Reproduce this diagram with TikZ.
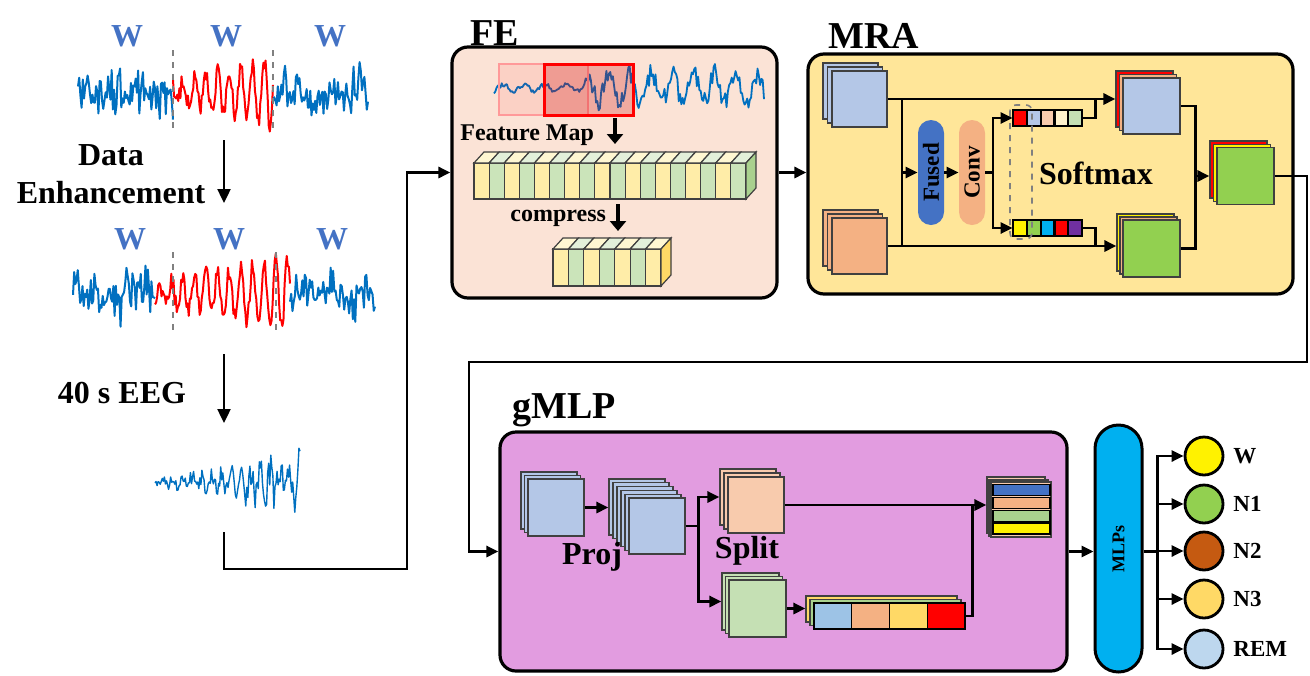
\documentclass[tikz,border=0pt]{standalone}
\usepackage{fontspec}
\setmainfont{Liberation Serif}
\usetikzlibrary{arrows.meta,calc}
\definecolor{wblue}{HTML}{4472C4}
\definecolor{eeg}{HTML}{0070C0}
\definecolor{fec}{HTML}{FBE3D6}
\definecolor{mrac}{HTML}{FFE699}
\definecolor{gmc}{HTML}{E29CE0}
\definecolor{sqblue}{HTML}{B4C7E7}
\definecolor{sqorange}{HTML}{F4B183}
\definecolor{sqpeach}{HTML}{F8CBAD}
\definecolor{sqlgreen}{HTML}{C5E0B4}
\definecolor{sqgreen}{HTML}{92D050}
\definecolor{fmy}{HTML}{FFEDA8}
\definecolor{fmyt}{HTML}{FFF7D2}
\definecolor{fmg}{HTML}{CBE4BA}
\definecolor{fmgt}{HTML}{E3F0DA}
\definecolor{fmside}{HTML}{A9D18E}
\definecolor{gold}{HTML}{FFD966}
\definecolor{cyanc}{HTML}{00B0F0}
\definecolor{purp}{HTML}{7030A0}
\definecolor{brownc}{HTML}{C55A11}
\definecolor{lblue}{HTML}{BDD7EE}
\definecolor{barblue}{HTML}{9DC3E6}
\definecolor{stripgreen}{HTML}{A9D18E}
\definecolor{vlight}{HTML}{FFF2CC}
\newcommand{\myfs}[1]{\fontsize{#1}{#1}\selectfont}
\tikzset{
 conn/.style={line width=1.4pt,-{Triangle[length=6pt,width=5.5pt]}},
 wire/.style={line width=1.4pt},
 thinarrow/.style={line width=1.2pt,-{Triangle[length=7pt,width=6.5pt]}},
 fatarrow/.style={line width=2.4pt,-{Triangle[length=5pt,width=8pt]}},
 sqn/.style={draw=black!75, line width=0.6pt, inner sep=0pt},
 lyr/.style={draw=black!75, line width=0.6pt},
 bigbox/.style={draw, line width=1.6pt, rounded corners=8pt, inner sep=0pt},
 ttl/.style={font=\bfseries\myfs{19}, anchor=base west, inner sep=0pt},
 lab16/.style={font=\bfseries\myfs{16}, inner sep=0pt},
 lab12/.style={font=\bfseries\myfs{12}, inner sep=0pt},
 wlab/.style={font=\bfseries\myfs{16}, text=wblue, inner sep=0pt},
 pillshape/.style={rounded corners=6.5pt, minimum width=13pt, minimum height=52.5pt, inner sep=0pt},
 cls/.style={circle, draw, line width=1.4pt, minimum size=19pt, inner sep=0pt},
 clab/.style={font=\bfseries\myfs{11.5}, anchor=west, inner sep=0pt},
 sig/.style={eeg, line width=1pt, line join=round},
 sigred/.style={red, line width=1pt, line join=round},
 sepline/.style={gray, dashed, line width=0.8pt},
}
\newcommand{\lyrect}[5]{\draw[lyr, fill=#5] (#1,#2) rectangle ++(#3,#4);}
\begin{document}
\begin{tikzpicture}[x=0.5pt,y=-0.5pt]
\useasboundingbox (0,0) rectangle (1310,675);
\pgfmathsetseed{2024}

% ---------------- left column ----------------
\node[wlab] (w1) at (127,36) {W};
\node[wlab] (w2) at (226,36) {W};
\node[wlab] (w3) at (330,36) {W};
\draw[sig] plot[domain=78:173,samples=80] (\x,{92+10*rand+32*rand*rand});
\draw[sigred] plot[domain=173:273,samples=95] (\x,{92+9*rand+(8+0.26*(\x-173))*sin(\x*31)});
\draw[sig] plot[domain=273:368,samples=80] (\x,{92+10*rand+30*rand*rand});
\draw[sepline] (173,50) -- (173,131);
\draw[sepline] (273,50) -- (273,131);

\coordinate (d1a) at (224,140);
\coordinate (d1b) at (224,203);
\draw[thinarrow] (d1a) -- (d1b);
\node[lab16] (det1) at (111,155) {Data};
\node[lab16] (det2) at (111,193) {Enhancement};

\node[wlab] (w4) at (130,239) {W};
\node[wlab] (w5) at (229,239) {W};
\node[wlab] (w6) at (332,239) {W};
\draw[sig] plot[domain=73:155,samples=70] (\x,{293+10*rand+32*rand*rand});
\draw[sigred] plot[domain=155:290,samples=125] (\x,{293+9*rand+(8+0.2*(\x-155))*sin(\x*31)});
\draw[sig] plot[domain=290:375,samples=70] (\x,{293+10*rand+28*rand*rand});
\draw[sepline] (173,252) -- (173,333);
\draw[sepline] (276,252) -- (276,333);

\coordinate (d2a) at (224,354);
\coordinate (d2b) at (224,423);
\draw[thinarrow] (d2a) -- (d2b);
\node[lab16] (eegt) at (122,393) {40 s EEG};

\draw[eeg, line width=0.7pt, line join=round] plot[domain=155:300,samples=140] (\x,{482+(5+0.22*(\x-155))*(0.55*rand+0.45*sin(\x*37))});

% ---------------- big boxes ----------------
\node[bigbox, fill=fec, minimum width=162.5pt, minimum height=125.5pt] (fe) at (614.5,172.5) {};
\node[bigbox, fill=mrac, minimum width=242.5pt, minimum height=120pt] (mra) at (1050.5,174) {};
\node[bigbox, fill=gmc, minimum width=283.5pt, minimum height=119.5pt] (gm) at (783.5,551.5) {};
\node[ttl] (fet) at (470,45) {FE};
\node[ttl] (mrat) at (828,48) {MRA};
\node[ttl] (gmt) at (512,418) {gMLP};

\coordinate (s3o) at (224,532);
\draw[conn] (s3o) -- (224,569) -| (407,172.5) -- (fe.west);

% ---------------- FE ----------------
\draw[eeg, line width=0.9pt, line join=round] plot[domain=494:764,samples=210] (\x,{88+(6+18*(\x>585))*(0.4*rand+0.6*sin(\x*17))});
\draw[red!40, line width=1pt, fill=red, fill opacity=0.08] (499,64) rectangle (588,115);
\draw[red, line width=1.5pt, fill=red!80!black, fill opacity=0.25] (544,64) rectangle (633,115);
\node[lab12, anchor=west] (fmt) at (460,135) {Feature Map};
\coordinate (fa1) at (615,118);
\coordinate (fa2) at (615,144);
\draw[fatarrow] (fa1) -- (fa2);
\foreach \i in {0,...,17} {
  \pgfmathsetmacro\xa{474+\i*15.11}
  \pgfmathtruncatemacro\odd{mod(\i,2)}
  \ifnum\odd=0 \def\cf{fmy}\def\ct{fmyt}\else \def\cf{fmg}\def\ct{fmgt}\fi
  \draw[lyr, fill=\cf] (\xa,163) rectangle ++(15.11,36);
  \draw[lyr, fill=\ct] (\xa,163) -- ++(10,-11) -- ++(15.11,0) -- ++(-10,11) -- cycle;
}
\draw[lyr, fill=fmside] (746,163) -- ++(10,-11) -- ++(0,36) -- ++(-10,11) -- cycle;
\node[lab12, anchor=west] (cmp) at (510,218) {compress};
\coordinate (fa3) at (618,204);
\coordinate (fa4) at (618,231);
\draw[fatarrow] (fa3) -- (fa4);
\foreach \i in {0,...,6} {
  \pgfmathsetmacro\xa{553+\i*15.43}
  \pgfmathtruncatemacro\odd{mod(\i,2)}
  \ifnum\odd=0 \def\cf{fmy}\def\ct{fmyt}\else \def\cf{fmg}\def\ct{fmgt}\fi
  \draw[lyr, fill=\cf] (\xa,249) rectangle ++(15.43,37);
  \draw[lyr, fill=\ct] (\xa,249) -- ++(10,-11) -- ++(15.43,0) -- ++(-10,11) -- cycle;
}
\draw[lyr, fill=gold] (661,249) -- ++(10,-11) -- ++(0,37) -- ++(-10,11) -- cycle;

\draw[conn] (fe.east) -- (fe.east -| mra.west);

% ---------------- MRA ----------------
\lyrect{823}{63}{55}{56}{sqblue}
\lyrect{827.5}{67}{55}{56}{sqblue}
\node[sqn, fill=sqblue, minimum width=27.5pt, minimum height=28pt] (mb) at (859.5,99) {};
\lyrect{823}{210}{55}{56}{sqorange}
\lyrect{827.5}{214}{55}{56}{sqorange}
\node[sqn, fill=sqorange, minimum width=27.5pt, minimum height=28pt] (mo) at (859.5,246) {};

\node[sqn, fill=red, minimum width=28.5pt, minimum height=28pt] (mtrb) at (1144.5,99) {};
\lyrect{1119.5}{74.5}{57}{56}{sqorange}
\node[sqn, fill=sqblue, minimum width=28.5pt, minimum height=28pt] (mtr) at (1151.5,106) {};
\node[sqn, fill=yellow, minimum width=28.5pt, minimum height=28.5pt] (mgrb) at (1145.5,242.5) {};
\lyrect{1120}{217}{57}{57}{sqorange}
\node[sqn, fill=sqgreen, minimum width=28.5pt, minimum height=28.5pt] (mgr) at (1151.5,248.5) {};
\node[sqn, fill=red, minimum width=28.5pt, minimum height=28.5pt] (mfb) at (1238.5,169.5) {};
\lyrect{1213.5}{144.5}{57}{57}{yellow}
\node[sqn, fill=sqgreen, minimum width=28.5pt, minimum height=28.5pt] (mfin) at (1245.5,176) {};

\draw[conn] (mb.east) -- (mb.east -| mtrb.west);
\draw[conn] (mo.east) -- (mo.east -| mgrb.west);
\coordinate (mj1) at (902,99);
\coordinate (mj2) at (902,246);
\draw[wire] (mj1) -- (mj2);

\node[pillshape, fill=wblue] (fused) at (931,172.5) {};
\node[rotate=90, font=\bfseries\myfs{11.5}, inner sep=0pt] (fusedt) at (fused.center) {Fused};
\node[pillshape, fill=sqorange] (conv) at (972,172.5) {};
\node[rotate=90, font=\bfseries\myfs{11.5}, inner sep=0pt] (convt) at (conv.center) {Conv};
\coordinate (mj3) at (902,172.5);
\draw[conn] (mj3) -- (fused.west);
\draw[conn] (fused.east) -- (conv.west);

\node[inner sep=0pt, minimum width=34.5pt, minimum height=8pt] (vt) at (1047.5,118) {};
\node[inner sep=0pt, minimum width=34.5pt, minimum height=8pt] (vb) at (1047.5,228) {};
\foreach \c [count=\k from 0] in {red,sqblue,sqpeach,vlight,sqlgreen}
  \draw[line width=1.1pt, fill=\c] (1013+\k*13.8,110) rectangle ++(13.8,16);
\foreach \c [count=\k from 0] in {yellow,sqgreen,cyanc,red,purp}
  \draw[line width=1.1pt, fill=\c] (1013+\k*13.8,220) rectangle ++(13.8,16);
\draw[gray, dashed, line width=0.8pt, rounded corners=3pt] (1010,105) rectangle (1032,239);

\coordinate (cb) at (993,172.5);
\draw[wire] (conv.east) -- (cb);
\draw[conn] (cb) |- (vt.west);
\draw[conn] (cb) |- (vb.west);
\draw[wire] (vt.east) -- ++(13,0) coordinate (vtj) -- (vtj |- mb.east);
\draw[wire] (vb.east) -- ++(13,0) coordinate (vbj) -- (vbj |- mo.east);
\node[lab16] (smx) at (1096,173) {Softmax};

\draw[wire] (mtr.east) -- ++(15,0) coordinate (rjt) -- (rjt |- mgr.east) -- (mgr.east);
\coordinate (rjm) at (1195,176);
\draw[conn] (rjm) -- (rjm -| mfb.west);

\draw[conn] (mfin.east) -- (1307,176) -- (1307,362) -- (469,362) |- (gm.west);

% ---------------- gMLP ----------------
\lyrect{521}{472}{56}{57}{sqblue}
\lyrect{524.5}{475.5}{56}{57}{sqblue}
\node[sqn, fill=sqblue, minimum width=28pt, minimum height=28.5pt] (g1) at (556,507.5) {};
\node[sqn, fill=sqblue, minimum width=28pt, minimum height=28pt] (g2b) at (637,507) {};
\foreach \i in {1,...,4} { \lyrect{609+4*\i}{479+3.8*\i}{56}{56}{sqblue} }
\node[sqn, fill=sqblue, minimum width=28pt, minimum height=28pt] (g2) at (657,526) {};
\draw[conn] (g1.east) -- (g1.east -| g2b.west);
\node[lab16] (projt) at (592,557) {Proj};

\node[sqn, fill=sqpeach, minimum width=28pt, minimum height=28pt] (gob) at (748,497) {};
\lyrect{724}{473}{56}{56}{sqpeach}
\node[sqn, fill=sqpeach, minimum width=28pt, minimum height=28pt] (go) at (756,505) {};
\node[sqn, fill=sqlgreen, minimum width=28.5pt, minimum height=28.5pt] (ggb) at (750.5,601.5) {};
\lyrect{725.5}{576.5}{57}{57}{sqlgreen}
\node[sqn, fill=sqlgreen, minimum width=28.5pt, minimum height=28.5pt] (gg) at (757.5,608.5) {};
\node[lab16] (splitt) at (747,551) {Split};

\draw[wire] (g2.east) -- ++(13,0) coordinate (gj);
\draw[conn] (gj) |- (gob.west);
\draw[conn] (gj) |- (ggb.west);

\node[sqn, fill=gold, minimum width=75.5pt, minimum height=13pt] (barb) at (881.5,609) {};
\lyrect{810}{599.5}{151}{26}{stripgreen}
\node[inner sep=0pt, minimum width=75.5pt, minimum height=13pt] (barf) at (889.5,616) {};
\foreach \c [count=\k from 0] in {barblue,sqorange,gold,red}
  \draw[line width=0.7pt, fill=\c] (814+\k*37.75,603) rectangle ++(37.75,26);
\draw[conn] (gg.east) -- (gg.east -| barb.west);

\node[sqn, fill=sqpeach, minimum width=29pt, minimum height=28pt] (gtb) at (1016,505) {};
\lyrect{989}{480}{59}{56}{sqpeach}
\node[sqn, fill=sqpeach, minimum width=30pt, minimum height=27.5pt] (gt) at (1021,509.5) {};
\foreach \c/\ya/\yb in {wblue/484.5/495.5, sqorange/497.5/508.5, stripgreen/510.5/521.5, yellow/523/534}
  \draw[line width=0.7pt, fill=\c] (993,\ya) rectangle (1050,\yb);

\draw[conn] (go.east) -- (go.east -| gtb.west);
\draw[wire] (barf.east) -- ++(7,0) coordinate (bj) -- (bj |- go.east);

% ---------------- MLPs & classes ----------------
\node[draw, line width=1.5pt, fill=cyanc, rounded corners=11.75pt, minimum width=23.5pt, minimum height=123.5pt, inner sep=0pt] (mlp) at (1118.5,548.5) {};
\node[rotate=90, font=\bfseries\myfs{9}, inner sep=0pt] (mlpt) at (mlp.center) {MLPs};
\draw[conn] (gm.east) -- (gm.east -| mlp.west);

\node[cls, fill=yellow] (c1) at (1204,456) {};
\node[cls, fill=sqgreen] (c2) at (1204,504) {};
\node[cls, fill=brownc] (c3) at (1204,551) {};
\node[cls, fill=gold] (c4) at (1204,599) {};
\node[cls, fill=lblue] (c5) at (1204,649) {};
\draw[wire] (gm.east -| mlp.east) -- ++(14,0) coordinate (mj);
\foreach \c in {c1,c2,c3,c4,c5} \draw[conn] (mj) |- (\c.west);
\node[clab] (l1) at (1233,456) {W};
\node[clab] (l2) at (1233,504) {N1};
\node[clab] (l3) at (1233,551) {N2};
\node[clab] (l4) at (1233,599) {N3};
\node[clab] (l5) at (1233,649) {REM};
\end{tikzpicture}
\end{document}
